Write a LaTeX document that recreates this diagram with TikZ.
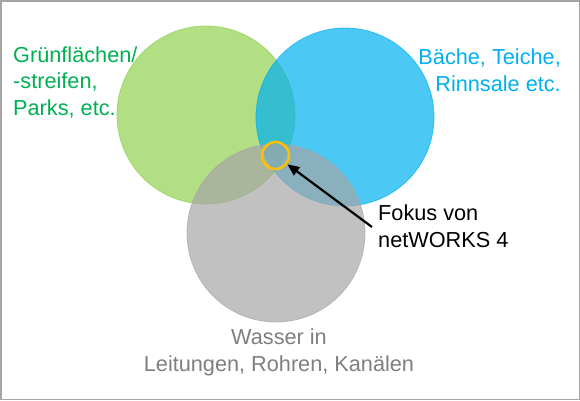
\documentclass[tikz,border=0pt]{standalone}
\usepackage{fontspec}
\setmainfont{Liberation Sans}
\usetikzlibrary{arrows.meta}
\definecolor{gfill}{HTML}{92D050}
\definecolor{bfill}{HTML}{00B0F0}
\definecolor{grfill}{HTML}{A6A6A6}
\definecolor{gtext}{HTML}{00B050}
\definecolor{btext}{HTML}{00B0F0}
\definecolor{grtext}{HTML}{7F7F7F}
\definecolor{focuscol}{HTML}{FFC000}
\definecolor{framecol}{HTML}{A6A6A6}
\tikzset{
  venn/.style={circle, minimum size=178pt, inner sep=0pt, fill opacity=0.7, draw opacity=0.7, line width=0.8pt},
  lbl/.style={inner sep=0pt, font=\fontsize{21.7pt}{26.8pt}\selectfont},
  frame/.style={draw=framecol, line width=1.5pt},
  focusring/.style={circle, minimum size=27pt, inner sep=0pt, draw=focuscol, line width=2.5pt},
  pointer/.style={-{Triangle[length=12pt,width=10pt]}, line width=2.2pt, black}
}
\begin{document}
\begin{tikzpicture}[x=1pt,y=-1pt]
\useasboundingbox (0,0) rectangle (580,400);
\draw[frame] (0.75,0.75) rectangle (579.25,399.25);
\node[venn, fill=gfill, draw=gfill] (green) at (206,115) {};
\node[venn, fill=bfill, draw=bfill] (blue) at (345,117) {};
\node[venn, fill=grfill, draw=grfill] (grey) at (276,233) {};
\node[focusring] (focus) at (275.5,155.5) {};
\coordinate (tail) at (372,227);
\draw[pointer] (tail) -- (focus);
\node[lbl, anchor=west, align=left, text=gtext] (gl) at (13,82.5) {Grünflächen/\\-streifen,\\Parks, etc.};
\node[lbl, anchor=east, align=right, text=btext] (bl) at (561,70) {Bäche, Teiche,\\Rinnsale etc.};
\node[lbl, anchor=west, align=left, text=black] (fl) at (378,226) {Fokus von\\netWORKS 4};
\node[lbl, anchor=center, align=center, text=grtext] (wl) at (279,352.5) {Wasser in\\Leitungen, Rohren, Kanälen};
\end{tikzpicture}
\end{document}
